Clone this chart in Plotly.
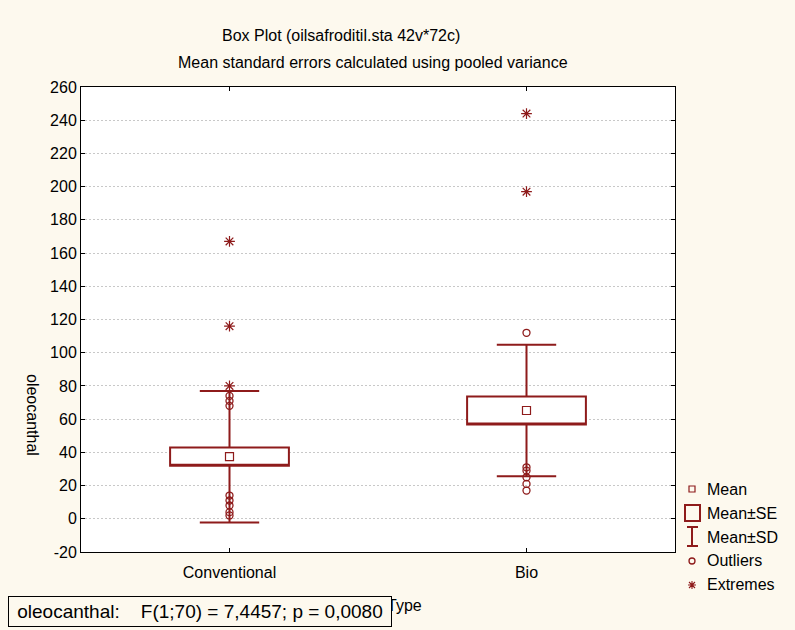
import plotly.graph_objects as go

# ---- data ----
categories = ["Conventional", "Bio"]
means = [37.4, 65.2]
se = [5.5, 8.4]
sd = [39.6, 39.6]
outliers_conv = [74, 71, 68, 14, 11, 8, 4, 2]
outliers_bio = [112, 31, 29, 25, 21, 17]
extremes_conv = [167, 116, 80]
extremes_bio = [244, 197]
y_ticks = list(range(-20, 261, 20))
y_ticktext = [str(v) for v in y_ticks]

RED = "#8E1B1B"
BG = "#FDF9EE"
FONT = "Liberation Sans, Arial, sans-serif"
FS = 16

W, H = 795, 630
L, R, T, B = 81, 675, 87, 552


def px(x):
    return (x - L) / (R - L)


def py(y):
    return (B - y) / (B - T)


fig = go.Figure()

fig.add_trace(go.Box(
    x=categories,
    q1=[m - s for m, s in zip(means, se)],
    median=[m - s for m, s in zip(means, se)],
    q3=[m + s for m, s in zip(means, se)],
    lowerfence=[m - d for m, d in zip(means, sd)],
    upperfence=[m + d for m, d in zip(means, sd)],
    width=0.4,
    whiskerwidth=0.5,
    fillcolor="white",
    line=dict(color=RED, width=2),
    boxpoints=False,
    hoverinfo="skip",
    showlegend=False,
))

fig.add_trace(go.Scatter(
    x=categories, y=means, mode="markers",
    marker=dict(symbol="square-open", size=8, color=RED, line=dict(width=1.2)),
    showlegend=False, hoverinfo="skip"))

out_x = [categories[0]] * len(outliers_conv) + [categories[1]] * len(outliers_bio)
out_y = outliers_conv + outliers_bio
fig.add_trace(go.Scatter(
    x=out_x, y=out_y, mode="markers",
    marker=dict(symbol="circle-open", size=7, color=RED, line=dict(width=1.3)),
    showlegend=False, hoverinfo="skip"))

ext_x = [categories[0]] * len(extremes_conv) + [categories[1]] * len(extremes_bio)
ext_y = extremes_conv + extremes_bio
fig.add_trace(go.Scatter(
    x=ext_x, y=ext_y, mode="markers",
    marker=dict(symbol="asterisk-open", size=9, color=RED, line=dict(width=1.2, color=RED)),
    showlegend=False, hoverinfo="skip"))


def ann(text, x, y, size=FS, xanchor="center", **kw):
    d = dict(text=text, x=px(x), y=py(y), xref="paper", yref="paper", showarrow=False,
             xanchor=xanchor, yanchor="middle",
             font=dict(size=size, color="black", family=FONT))
    d.update(kw)
    return d


annotations = [
    ann("Box Plot (oilsafroditil.sta 42v*72c)", 341, 35),
    ann("Mean standard errors calculated using pooled variance", 373, 62),
    ann("oleocanthal", 33, 415, textangle=90),
    ann("Type", 385, 605, xanchor="left"),
    ann("oleocanthal:\u00a0\u00a0\u00a0\u00a0F(1;70) = 7,4457; p = 0,0080", 8, 611, size=19,
        xanchor="left", bgcolor=BG, bordercolor="black", borderwidth=1, borderpad=4,
        width=374, height=21, align="center"),
]

legend_items = [("Mean", 489), ("Mean\u00b1SE", 513), ("Mean\u00b1SD", 537),
                ("Outliers", 560), ("Extremes", 584)]
for txt, yy in legend_items:
    annotations.append(ann(txt, 705, yy, xanchor="left"))

shapes = []
sx = 692
# Mean square
shapes.append(dict(type="rect", xref="paper", yref="paper", x0=px(689), x1=px(695),
                   y0=py(486), y1=py(492), line=dict(color=RED, width=1.2)))
# Mean±SE rect
shapes.append(dict(type="rect", xref="paper", yref="paper", x0=px(685), x1=px(700),
                   y0=py(505), y1=py(521), line=dict(color=RED, width=2)))
# Mean±SD I-shape
shapes.append(dict(type="line", xref="paper", yref="paper", x0=px(sx), x1=px(sx),
                   y0=py(527), y1=py(546), line=dict(color=RED, width=2)))
shapes.append(dict(type="line", xref="paper", yref="paper", x0=px(687), x1=px(698),
                   y0=py(527), y1=py(527), line=dict(color=RED, width=2)))
shapes.append(dict(type="line", xref="paper", yref="paper", x0=px(687), x1=px(698),
                   y0=py(546), y1=py(546), line=dict(color=RED, width=2)))
# Outlier circle
shapes.append(dict(type="circle", xref="paper", yref="paper", x0=px(689), x1=px(695),
                   y0=py(558), y1=py(564), line=dict(color=RED, width=1.3)))
# Extremes asterisk
cx, cy, r = 692, 585, 4
path = (f"M {px(cx - r)},{py(cy)} L {px(cx + r)},{py(cy)} "
        f"M {px(cx)},{py(cy - r)} L {px(cx)},{py(cy + r)} "
        f"M {px(cx - 3)},{py(cy - 3)} L {px(cx + 3)},{py(cy + 3)} "
        f"M {px(cx - 3)},{py(cy + 3)} L {px(cx + 3)},{py(cy - 3)}")
shapes.append(dict(type="path", xref="paper", yref="paper", path=path,
                   line=dict(color=RED, width=1.1)))

fig.update_layout(
    width=W, height=H,
    margin=dict(l=L, r=W - R, t=T, b=H - B, pad=0),
    paper_bgcolor=BG, plot_bgcolor="white",
    showlegend=False,
    font=dict(family=FONT, size=FS, color="black"),
    annotations=annotations,
    shapes=shapes,
    xaxis=dict(type="category", range=[-0.5, 1.5], showgrid=False, showline=True,
               linecolor="black", linewidth=1, mirror="ticks", ticks="inside",
               ticklen=4, tickcolor="black", tickfont=dict(size=FS, family=FONT),
               ticklabelstandoff=6, zeroline=False, fixedrange=True),
    yaxis=dict(range=[-20, 260], tickvals=y_ticks, ticktext=y_ticktext, showgrid=True,
               gridcolor="#C8C8C8", griddash="2px,2px", gridwidth=1, showline=True,
               linecolor="black", linewidth=1, mirror="ticks", ticks="inside", ticklen=4,
               tickcolor="black", tickfont=dict(size=FS, family=FONT), zeroline=False,
               fixedrange=True),
)

fig.write_html("out.html")
